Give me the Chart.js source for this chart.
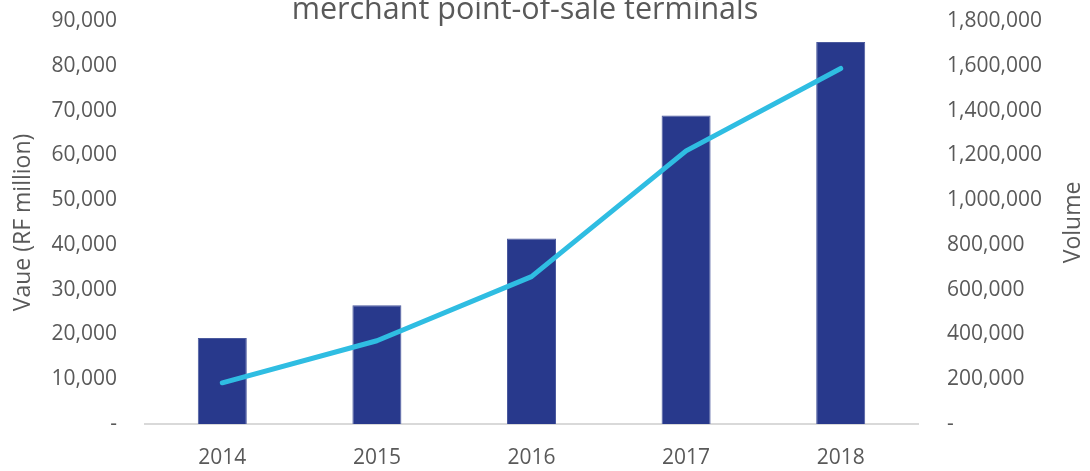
<!DOCTYPE html>
<html>
<head>
<meta charset="utf-8">
<script src="https://cdn.jsdelivr.net/npm/chart.js@4.4.1/dist/chart.umd.min.js"></script>
<style>
  html, body { margin: 0; padding: 0; background: #fff; overflow: hidden; }
  #wrap { position: relative; width: 1090px; height: 471px; overflow: hidden; }
  #title { position: absolute; left: 0; width: 1050px; top: -8px; text-align: center;
           font-family: "Open Sans", sans-serif; font-size: 30.5px; line-height: 30px; color: #595959; white-space: nowrap; }
  canvas { position: absolute; left: 0; top: 0; }
</style>
</head>
<body>
<div id="wrap">
  <canvas id="c" width="1090" height="471"></canvas>
  <div id="title">merchant point-of-sale terminals</div>
</div>
<script>
const categories = ["2014", "2015", "2016", "2017", "2018"];
const valueSeries = [19200, 26500, 41400, 68900, 85300];
const volumeSeries = [184000, 372000, 658000, 1220000, 1588000];
const leftTicks = [0, 10000, 20000, 30000, 40000, 50000, 60000, 70000, 80000, 90000];
const rightTicks = [0, 200000, 400000, 600000, 800000, 1000000, 1200000, 1400000, 1600000, 1800000];
const leftTitle = "Vaue (RF million)";
const rightTitle = "Volume";

const FONT = "Open Sans";
const GREY = "#595959";
const fmt = v => v === 0 ? "-" : v.toLocaleString("en-US");

// Right axis title drawn reading bottom-to-top, as in the reference
const rightTitlePlugin = {
  id: "rightTitle",
  afterDraw(chart) {
    const s = chart.scales.y1;
    const ctx = chart.ctx;
    ctx.save();
    ctx.fillStyle = GREY;
    ctx.font = "23px 'Open Sans'";
    ctx.textAlign = "center";
    ctx.textBaseline = "middle";
    ctx.translate(s.right - 17, (s.top + s.bottom) / 2);
    ctx.rotate(-Math.PI / 2);
    ctx.fillText(rightTitle, 0, 0);
    ctx.restore();
  }
};

new Chart(document.getElementById("c"), {
  data: {
    labels: categories,
    datasets: [
      {
        type: "line",
        label: "Volume",
        data: volumeSeries,
        yAxisID: "y1",
        borderColor: "#2fbde2",
        borderWidth: 5,
        borderCapStyle: "round",
        borderJoinStyle: "round",
        pointRadius: 0,
        tension: 0,
        order: 0
      },
      {
        type: "bar",
        label: "Value",
        data: valueSeries,
        yAxisID: "y",
        backgroundColor: "#28398c",
        borderColor: "#4b5a9e",
        borderWidth: 1,
        categoryPercentage: 1,
        barPercentage: 0.317,
        order: 1
      }
    ]
  },
  plugins: [rightTitlePlugin],
  options: {
    responsive: false,
    animation: false,
    layout: { padding: { top: 21, left: 0, right: 0, bottom: 0 } },
    plugins: { legend: { display: false }, tooltip: { enabled: false }, title: { display: false } },
    scales: {
      x: {
        grid: { display: false, drawTicks: false },
        border: { display: true, color: "#d9d9d9", width: 2 },
        ticks: { color: GREY, font: { family: FONT, size: 21 }, padding: 21 },
        afterFit: s => { s.height = 47; s.paddingLeft = 0; s.paddingRight = 0; }
      },
      y: {
        position: "left",
        min: 0, max: 90000,
        afterBuildTicks: s => { s.ticks = leftTicks.map(v => ({ value: v })); },
        grid: { display: false, drawTicks: false },
        border: { display: false },
        ticks: { color: GREY, font: { family: FONT, size: 21 }, padding: 28, callback: v => fmt(v) },
        title: { display: true, text: leftTitle, color: GREY, font: { family: FONT, size: 23 }, padding: { top: 10, bottom: 0 } },
        afterFit: s => { s.width = 145; s.paddingTop = 0; s.paddingBottom = 0; }
      },
      y1: {
        position: "right",
        min: 0, max: 1800000,
        afterBuildTicks: s => { s.ticks = rightTicks.map(v => ({ value: v })); },
        grid: { display: false, drawTicks: false },
        border: { display: false },
        ticks: { color: GREY, font: { family: FONT, size: 21 }, padding: 29, callback: v => fmt(v) },
        title: { display: false },
        afterFit: s => { s.width = 172; s.paddingTop = 0; s.paddingBottom = 0; }
      }
    }
  }
});
</script>
</body>
</html>
